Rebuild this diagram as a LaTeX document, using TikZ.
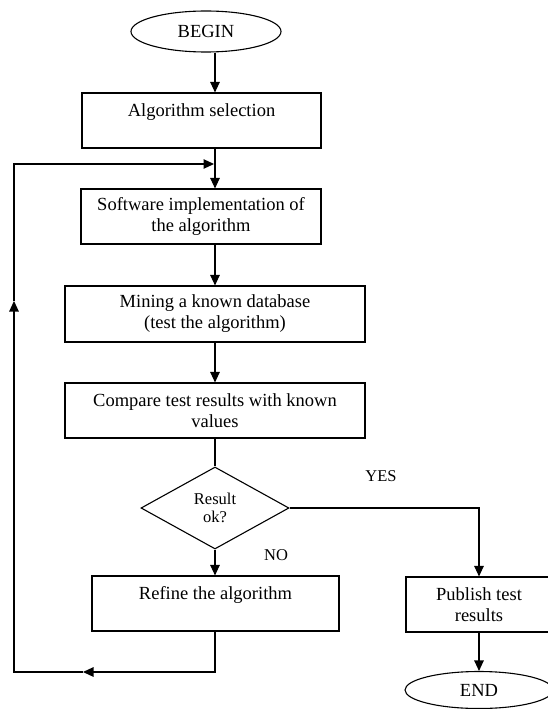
\documentclass[tikz,border=0pt]{standalone}
\usepackage{fontspec}
\setmainfont{Liberation Serif}
\usetikzlibrary{arrows.meta,shapes.geometric}
\begin{document}
\begin{tikzpicture}[x=1pt,y=-1pt,
  line width=1.1pt,
  box/.style={draw, rectangle, inner sep=0pt, align=center,
    font=\fontsize{18.5}{21}\selectfont},
  term/.style={draw, ellipse, inner sep=0pt, font=\fontsize{18.5}{21}\selectfont},
  decide/.style={draw, diamond, inner sep=0pt, align=center,
    minimum width=148pt, minimum height=82pt, aspect=1.8,
    font=\fontsize{16.5}{18}\selectfont},
  lbl/.style={font=\fontsize{16.5}{18}\selectfont, inner sep=0pt},
  arr/.style={-{Triangle[length=10.5pt,width=9.5pt]}}]
\useasboundingbox (0,0) rectangle (548,709);
\clip (0,0) rectangle (548,709);
\fill[white] (0,0) rectangle (548,709);

\node[term, minimum width=150pt, minimum height=41pt] (begin) at (206,31.5) {BEGIN};
\node[box, minimum width=239pt, minimum height=55pt] (sel) at (201.5,120.5) {Algorithm selection\\\mbox{}};
\node[box, minimum width=240pt, minimum height=55pt] (soft) at (201,216.5) {Software implementation of\\the algorithm};
\node[box, minimum width=300pt, minimum height=56pt] (mine) at (215,314) {Mining a known database\\(test the algorithm)};
\node[box, minimum width=300pt, minimum height=55pt] (comp) at (215,410.5) {Compare test results with known\\values};
\node[decide] (dia) at (215,508) {Result\\ok?};
\node[box, minimum width=247pt, minimum height=55pt] (ref) at (215.5,603.5) {Refine the algorithm\\\mbox{}};
\node[box, minimum width=146pt, minimum height=55pt] (pub) at (479,604.5) {Publish test\\results};
\node[term, minimum width=148pt, minimum height=37pt] (end) at (479,690) {END};

\node[lbl] (yes) at (381,476) {YES};
\node[lbl] (no) at (276,555) {NO};

\coordinate (rb) at (215,672);
\coordinate (ab) at (83,672);
\coordinate (lb) at (14,672);
\coordinate (au) at (14,301);
\coordinate (lt) at (14,164);
\coordinate (jt) at (214,164);

\draw[arr] (begin.south -| mine) -- (sel.north -| mine);
\draw[arr] (sel.south -| mine) -- (soft.north -| mine);
\draw[arr] (soft.south -| mine) -- (mine.north);
\draw[arr] (mine.south) -- (comp.north);
\draw (comp.south) -- (dia.north);
\draw[arr] (dia.south) -- (ref.north -| dia);
\draw[arr] (dia.east) -| (pub.north);
\draw[arr] (pub.south) -- (end.north);

\draw[arr] (ref.south -| rb) -- (rb) -- (ab);
\draw[arr] (ab) -- (lb) -- (au);
\draw[arr] (au) -- (lt) -- (jt);
\end{tikzpicture}
\end{document}
